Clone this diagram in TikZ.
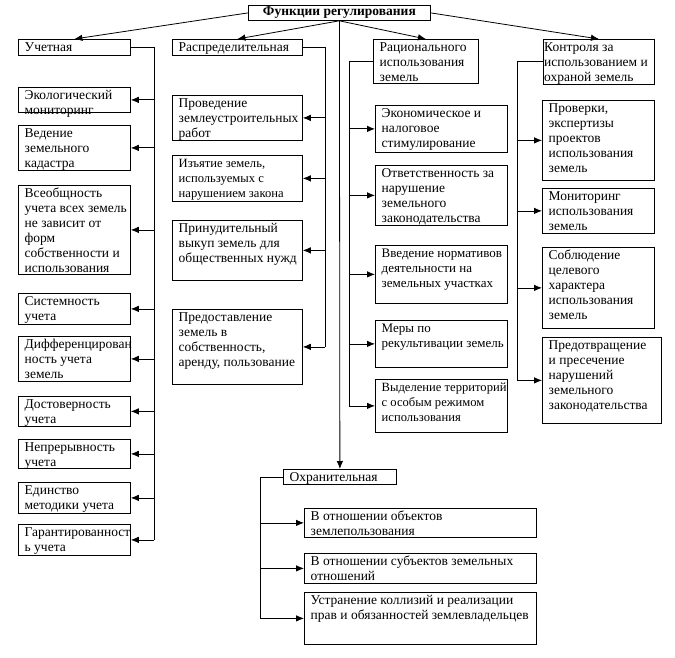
\documentclass[tikz,border=0pt]{standalone}
\usepackage{fontspec}
\setmainfont{Liberation Serif}
\usetikzlibrary{arrows.meta}
\tikzset{
  bx/.style={draw, rectangle, inner sep=0pt, anchor=north west, line width=0.8pt},
  tx/.style={anchor=north west, inner sep=0pt, align=left, font=\fontsize{13.5}{15}\selectfont},
  small/.style={font=\fontsize{12.6}{15}\selectfont},
  mid/.style={font=\fontsize{13}{15}\selectfont},
  ln/.style={line width=0.8pt},
  arr/.style={line width=0.8pt, -{Latex[length=8pt,width=6.5pt]}},
}
\newcommand\bx[7][]{%
  \node[bx, minimum width={#5-#3}, minimum height={#6-#4}] (#2) at (#3,#4) {};
  \node[tx,#1] (#2-t) at ([xshift=6.5pt,yshift=-1.5pt]#2.north west) {\strut #7};
}
\begin{document}
\begin{tikzpicture}[x=1pt,y=-1pt]
\useasboundingbox[fill=white] (0,0) rectangle (675,658);
% title
\node[bx, minimum width=182, minimum height=15] (t) at (248,5) {};
\node[font=\fontsize{13.5}{15}\selectfont\bfseries, inner sep=0pt] (t-t) at (t.center) {Функции регулирования};
% column 1
\bx{u}{18}{39}{130}{55}{Учетная}
\bx{u1}{18}{87}{130}{112}{Экологический\\мониторинг}
\bx{u2}{18}{125}{130}{170}{Ведение\\земельного\\кадастра}
\bx{u3}{18}{185}{130}{274}{Всеобщность\\учета всех земель\\не зависит от\\форм\\собственности и\\использования}
\bx{u4}{18}{293}{130}{324}{Системность\\учета}
\bx{u5}{18}{336}{130}{381}{Дифференцирован\\ность учета\\земель}
\bx{u6}{18}{396}{130}{426}{Достоверность\\учета}
\bx{u7}{18}{439}{130}{468}{Непрерывность\\учета}
\bx{u8}{18}{482}{130}{513}{Единство\\методики учета}
\bx{u9}{18}{524}{130}{555}{Гарантированност\\ь учета}
% column 2
\bx{r}{172}{39}{302}{55}{Распределительная}
\bx{r1}{172}{95}{302}{140}{Проведение\\землеустроительных\\работ}
\bx[small]{r2}{172}{155}{302}{201}{Изъятие земель,\\используемых с\\нарушением закона}
\bx{r3}{172}{220}{302}{280}{Принудительный\\выкуп земель для\\общественных нужд}
\bx{r4}{172}{309}{302}{384}{Предоставление\\земель в\\собственность,\\аренду, пользование}
% column 3
\bx{q}{373}{39}{478}{83}{Рационального\\использования\\земель}
\bx{q1}{375}{105}{507}{152}{Экономическое и\\налоговое\\стимулирование}
\bx{q2}{375}{165}{507}{225}{Ответственность за\\нарушение\\земельного\\законодательства}
\bx[mid]{q3}{375}{245}{507}{303}{Введение нормативов\\деятельности на\\земельных участках}
\bx[mid]{q4}{375}{320}{507}{367}{Меры по\\рекультивации земель}
\bx[small]{q5}{375}{379}{507}{432}{Выделение территорий\\с особым режимом\\использования}
% column 4
\bx[xshift=-5.5pt]{k}{543}{39}{654}{84}{Контроля за\\использованием и\\охраной земель}
\bx{k1}{542}{100}{654}{180}{Проверки,\\экспертизы\\проектов\\использования\\земель}
\bx{k2}{542}{188}{654}{233}{Мониторинг\\использования\\земель}
\bx{k3}{542}{247}{654}{328}{Соблюдение\\целевого\\характера\\использования\\земель}
\bx{k4}{542}{337}{661}{423}{Предотвращение\\и пресечение\\нарушений\\земельного\\законодательства}
% bottom
\bx{o}{283}{469}{396}{484}{Охранительная}
\bx{o1}{304}{508}{536}{537}{В отношении объектов\\землепользования}
\bx{o2}{304}{553}{536}{583}{В отношении субъектов земельных\\отношений}
\bx{o3}{304}{592}{536}{644}{Устранение коллизий и реализации\\прав и обязанностей землевладельцев}
% buses
\coordinate (b1) at (154,0);
\coordinate (b2) at (325,0);
\coordinate (b3) at (349,0);
\coordinate (b4) at (517,0);
\coordinate (b5) at (260,0);
% title arrows
\draw[arr] (t.west) -- (u.north);
\draw[arr] (t.south) -- (r.north);
\draw[arr] (t.south) -- (q.north);
\draw[arr] (t.east) -- (k.north);
\draw[arr] (t.south) -- (o.north);
% column connectors
\draw[ln] (u.east) -| (b1 |- u9.east);
\foreach \c in {u1,u2,u3,u4,u5,u6,u7,u8,u9} \draw[arr] (b1 |- \c.east) -- (\c.east);
\draw[ln] (r.east) -| (b2 |- r4.east);
\foreach \c in {r1,r2,r3,r4} \draw[arr] (b2 |- \c.east) -- (\c.east);
\draw[ln] (q.west) -| (b3 |- q5.west);
\foreach \c in {q1,q2,q3,q4,q5} \draw[arr] (b3 |- \c.west) -- (\c.west);
\draw[ln] (k.west) -| (b4 |- k4.west);
\foreach \c in {k1,k2,k3,k4} \draw[arr] (b4 |- \c.west) -- (\c.west);
\draw[ln] (o.west) -| (b5 |- o3.west);
\foreach \c in {o1,o2,o3} \draw[arr] (b5 |- \c.west) -- (\c.west);
\end{tikzpicture}
\end{document}
